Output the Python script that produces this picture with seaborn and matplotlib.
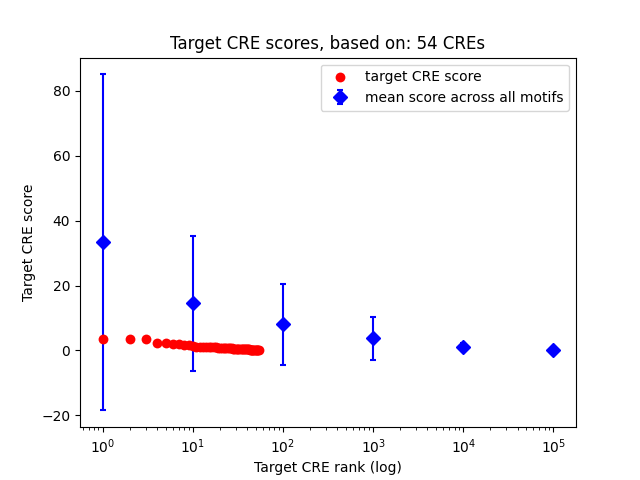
import matplotlib
matplotlib.use("Agg")
import matplotlib.pyplot as plt
import seaborn as sns
import numpy as np
import pandas as pd

# Target CRE ranks and scores (54 CREs)
cre_rank = list(range(1, 55))
cre_score = [3.6, 3.4, 3.4, 2.4, 2.3, 2.1, 1.9, 1.8, 1.6, 1.3,
             1.2, 1.15, 1.1, 1.05, 1.0, 1.0, 0.95, 0.9, 0.85, 0.8,
             0.75, 0.72, 0.7, 0.68, 0.65, 0.62, 0.6, 0.58, 0.55, 0.53,
             0.5, 0.48, 0.46, 0.44, 0.42, 0.4, 0.38, 0.36, 0.34, 0.32,
             0.3, 0.28, 0.27, 0.26, 0.25, 0.24, 0.22, 0.2, 0.18, 0.16,
             0.14, 0.12, 0.1, 0.08]

# Mean score across all motifs at rank buckets
motif_rank = [1, 10, 100, 1000, 10000, 100000]
motif_mean = [33.3, 14.5, 8.1, 3.7, 1.0, 0.0]
motif_std = [51.8, 20.9, 12.5, 6.6, 1.2, 0.2]

df = pd.DataFrame({"rank": cre_rank, "score": cre_score})

fig, ax = plt.subplots(figsize=(6.4, 4.8), dpi=100)
sns.scatterplot(data=df, x="rank", y="score", color="red", marker="o",
                s=50, linewidth=0, ax=ax, label="target CRE score", zorder=3)
ax.errorbar(motif_rank, motif_mean, yerr=motif_std, fmt="D", color="blue",
            ecolor="blue", elinewidth=1.5, capsize=2, capthick=1.5,
            markersize=7, label="mean score across all motifs")
ax.set_xscale("log")
ax.set_title("Target CRE scores, based on: 54 CREs")
ax.set_xlabel("Target CRE rank (log)")
ax.set_ylabel("Target CRE score")
ax.legend(loc="upper right")
fig.savefig("out.png", dpi=100)
